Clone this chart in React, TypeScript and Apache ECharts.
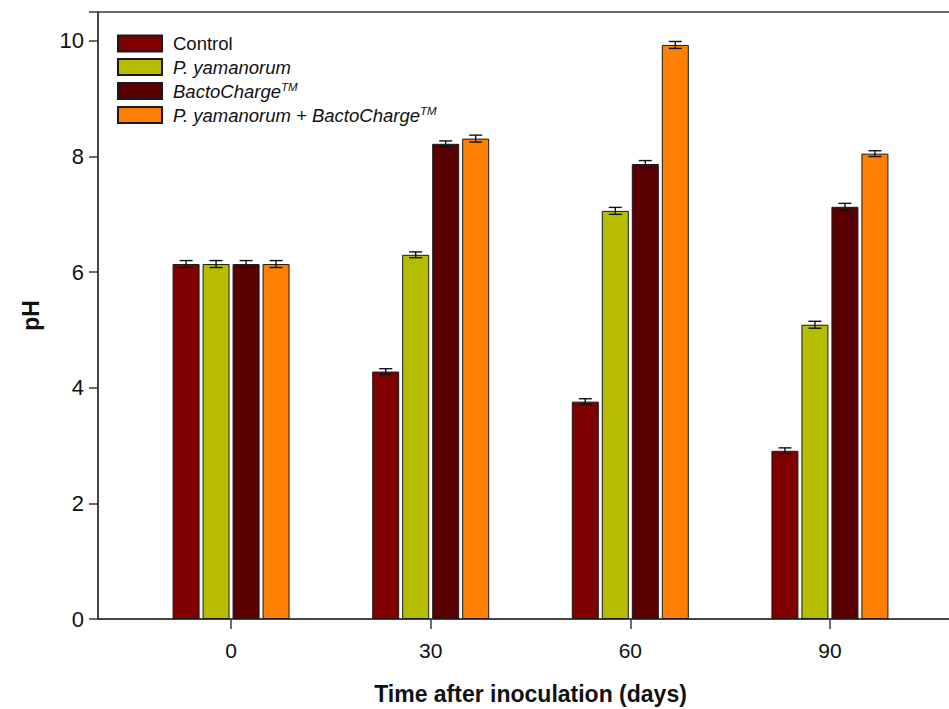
import React, { useEffect, useRef } from "react";
import * as echarts from "echarts";

// x axis positions (days), only some labelled
const axisDays = [-20, -10, 0, 10, 20, 30, 40, 50, 60, 70, 80, 90, 100, 110];
const days = [0, 30, 60, 90];
const yTicks = [0, 2, 4, 6, 8, 10];

const seriesNames = [
  "Control",
  "P. yamanorum",
  "BactoChargeTM",
  "P. yamanorum + BactoChargeTM",
];
const seriesColors = ["#800000", "#b6bd00", "#5a0000", "#ff8000"];

const controlValues = [6.14, 4.28, 3.76, 2.91];
const yamanorumValues = [6.14, 6.30, 7.06, 5.09];
const bactoValues = [6.14, 8.22, 7.87, 7.13];
const comboValues = [6.14, 8.31, 9.93, 8.05];

const controlErr = [0.06, 0.05, 0.05, 0.05];
const yamanorumErr = [0.06, 0.05, 0.06, 0.06];
const bactoErr = [0.06, 0.05, 0.06, 0.06];
const comboErr = [0.06, 0.06, 0.06, 0.05];

const allValues = [controlValues, yamanorumValues, bactoValues, comboValues];
const allErr = [controlErr, yamanorumErr, bactoErr, comboErr];

const legendLabels: Record<string, string> = {
  "Control": "{n|Control}",
  "P. yamanorum": "{i|P. yamanorum}",
  "BactoChargeTM": "{i|BactoCharge}{s|TM}",
  "P. yamanorum + BactoChargeTM": "{i|P. yamanorum + BactoCharge}{s|TM}",
};

const BAR_W = 27;
const BAR_GAP = 3;
const FONT = "Liberation Sans, Arial, sans-serif";

export default function App() {
  const ref = useRef<HTMLDivElement>(null);
  useEffect(() => {
    if (!ref.current) return;
    const chart = echarts.init(ref.current, null, { renderer: "svg" });
    const catIdx = days.map((d) => axisDays.indexOf(d));

    const barSeries = seriesNames.map((name, k) => {
      const data: any[] = axisDays.map(() => "-");
      days.forEach((_, j) => {
        data[catIdx[j]] = allValues[k][j];
      });
      return {
        name,
        type: "bar",
        barWidth: BAR_W,
        barGap: (BAR_GAP / BAR_W) * 100 + "%",
        data,
        itemStyle: { color: seriesColors[k], borderColor: "#1a1a1a", borderWidth: 1 },
        z: 2,
      };
    });

    const errData: number[][] = [];
    seriesNames.forEach((_, k) => {
      days.forEach((_, j) => {
        errData.push([catIdx[j], allValues[k][j], allErr[k][j], k]);
      });
    });

    const errSeries = {
      type: "custom",
      name: "err",
      z: 5,
      clip: false,
      data: errData,
      renderItem: (params: any, api: any) => {
        const x = api.value(0);
        const y = api.value(1);
        const e = api.value(2);
        const k = api.value(3);
        const off = (k - 1.5) * (BAR_W + BAR_GAP);
        const t = api.coord([x, y + e]);
        const b = api.coord([x, y - e]);
        const cx = t[0] + off;
        const hw = 6.5;
        const st = { stroke: "#111", lineWidth: 1.4 };
        return {
          type: "group",
          children: [
            { type: "line", shape: { x1: cx, y1: t[1], x2: cx, y2: b[1] }, style: st },
            { type: "line", shape: { x1: cx - hw, y1: t[1], x2: cx + hw, y2: t[1] }, style: st },
            { type: "line", shape: { x1: cx - hw, y1: b[1], x2: cx + hw, y2: b[1] }, style: st },
          ],
        };
      },
    };

    const labelled = new Set(days.map((d) => String(d)));

    chart.setOption({
      animation: false,
      backgroundColor: "#ffffff",
      textStyle: { fontFamily: FONT },
      grid: {
        left: 98,
        top: 12,
        bottom: 90,
        width: 865,
        outerBoundsMode: "none",
        containLabel: false,
        show: true,
        borderColor: "#3a3a3a",
        borderWidth: 1.5,
        backgroundColor: "transparent",
      },
      legend: {
        orient: "vertical",
        left: 112,
        top: 29,
        itemWidth: 44,
        itemHeight: 16,
        itemGap: 4.5,
        data: seriesNames,
        icon: "rect",
        formatter: (name: string) => legendLabels[name] || name,
        textStyle: {
          color: "#111",
          fontSize: 18.5,
          padding: [0, 0, 0, 6],
          rich: {
            n: { fontSize: 18.5, color: "#111", lineHeight: 20, fontFamily: FONT },
            i: { fontSize: 18.5, color: "#111", fontStyle: "italic", lineHeight: 20, fontFamily: FONT },
            s: { fontSize: 11.5, color: "#111", fontStyle: "italic", verticalAlign: "top", lineHeight: 11, fontFamily: FONT },
          },
        },
      },
      xAxis: {
        type: "category",
        data: axisDays.map(String),
        boundaryGap: false,
        name: "Time after inoculation (days)",
        nameLocation: "middle",
        nameGap: 63,
        nameTextStyle: { fontSize: 23, fontWeight: "bold", color: "#111" },
        axisLine: { show: true, lineStyle: { color: "#3a3a3a", width: 1.5 } },
        axisTick: {
          show: true,
          length: 10,
          interval: (i: number, v: string) => labelled.has(v),
          lineStyle: { color: "#3a3a3a", width: 1.5 },
        },
        axisLabel: {
          interval: (i: number, v: string) => labelled.has(v),
          fontSize: 21,
          color: "#111",
          margin: 21,
        },
        splitLine: { show: false },
      },
      yAxis: {
        type: "value",
        min: 0,
        max: 10.5,
        interval: 2,
        name: "pH",
        nameLocation: "middle",
        nameGap: 56,
        nameTextStyle: { fontSize: 23, fontWeight: "bold", color: "#111" },
        axisLine: { show: true, lineStyle: { color: "#3a3a3a", width: 1.5 } },
        axisTick: { show: true, length: 9, lineStyle: { color: "#3a3a3a", width: 1.5 } },
        axisLabel: {
          fontSize: 22,
          color: "#111",
          margin: 14,
          formatter: (v: number) => (yTicks.indexOf(v) >= 0 ? String(v) : ""),
        },
        splitLine: { show: false },
      },
      series: [...barSeries, errSeries],
    });
    return () => chart.dispose();
  }, []);
  return (
    <div
      ref={ref}
      style={{ position: "fixed", left: 0, top: 0, width: 949, height: 709 }}
    />
  );
}
